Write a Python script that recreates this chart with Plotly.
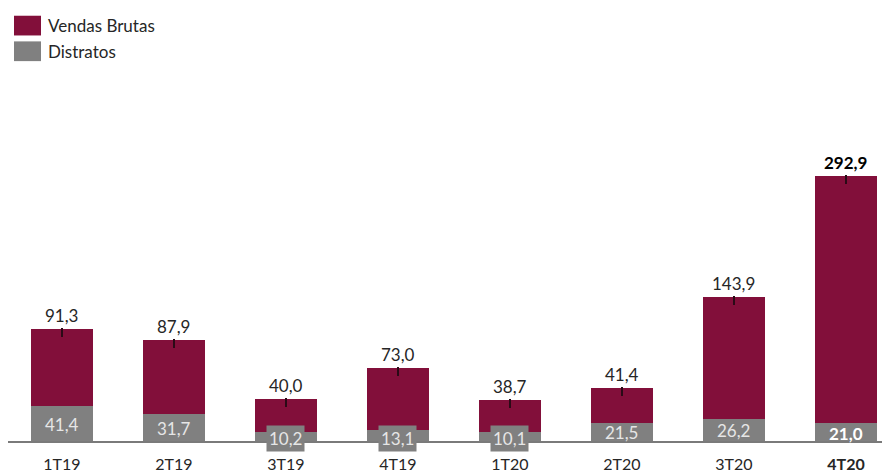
import plotly.graph_objects as go

categories = ["1T19", "2T19", "3T19", "4T19", "1T20", "2T20", "3T20", "4T20"]
vendas_brutas = [91.3, 87.9, 40.0, 73.0, 38.7, 41.4, 143.9, 292.9]
distratos = [41.4, 31.7, 10.2, 13.1, 10.1, 21.5, 26.2, 21.0]

MAROON = "#820F3A"
GRAY = "#808080"
FONT = "Lato"

# page has an 8px body margin, so the figure is drawn 8px smaller
OFF = 8
W, H = 890 - OFF, 473 - OFF
ML, MR, MT, MB = 0, 0, 62, 27
PW, PH = W - ML - MR, H - MT - MB


def px(x):
    return (x - OFF - ML) / PW


def py(y):
    return (H - MB - (y - OFF)) / PH


def fmt(v):
    return f"{v:.1f}".replace(".", ",")


last = len(categories) - 1

fig = go.Figure()
fig.add_trace(go.Bar(
    x=categories, y=distratos, name="Distratos",
    marker=dict(color=GRAY, line=dict(width=0)), width=0.545,
    showlegend=False, hoverinfo="skip",
))
fig.add_trace(go.Bar(
    x=categories, y=vendas_brutas, name="Vendas Brutas",
    marker=dict(color=MAROON, line=dict(width=0)), width=0.545,
    showlegend=False, hoverinfo="skip",
    error_y=dict(type="constant", value=1.2, valueminus=9.5, symmetric=False,
                 width=0, thickness=1.5, color="#2a0a16"),
))

annotations = []
for i, (c, v, d) in enumerate(zip(categories, vendas_brutas, distratos)):
    bold = i == last
    t = fmt(v)
    annotations.append(dict(
        x=c, y=v + d, xref="x", yref="y", yanchor="bottom", yshift=1,
        text=f"<b>{t}</b>" if bold else t, showarrow=False,
        font=dict(family=FONT, size=17, color="#000000" if bold else "#262626"),
    ))
    td = fmt(d)
    if d >= 18:
        annotations.append(dict(
            x=c, y=d / 2, xref="x", yref="y", yanchor="middle", yshift=-1,
            text=f"<b>{td}</b>" if bold else td, showarrow=False,
            font=dict(family=FONT, size=17, color="#ffffff" if bold else "#e6e6e6"),
        ))
    else:
        annotations.append(dict(
            x=c, y=0, xref="x", yref="y", yanchor="middle", yshift=3,
            text=td, showarrow=False, bgcolor=GRAY, borderpad=2,
            font=dict(family=FONT, size=17, color="#e6e6e6"),
        ))

# legend
shapes = []
legend_items = [("Vendas Brutas", MAROON, 15, 35), ("Distratos", GRAY, 41, 61)]
for name, col, y0, y1 in legend_items:
    shapes.append(dict(type="rect", xref="paper", yref="paper",
                       x0=px(14), x1=px(41), y0=py(y1), y1=py(y0),
                       fillcolor=col, line=dict(width=0)))
    annotations.append(dict(x=px(46), y=py((y0 + y1) / 2), xref="paper", yref="paper",
                            xanchor="left", yanchor="middle", text=name, showarrow=False,
                            font=dict(family=FONT, size=17, color="#262626")))

ticktext = [f"<b>{c}</b>" if i == last else c for i, c in enumerate(categories)]

fig.update_layout(
    width=W, height=H,
    margin=dict(l=ML, r=MR, t=MT, b=MB, pad=0),
    barmode="stack", bargap=0,
    plot_bgcolor="white", paper_bgcolor="white",
    font=dict(family=FONT, size=17, color="#262626"),
    annotations=annotations, shapes=shapes,
    xaxis=dict(
        range=[-0.482, 7.393], showgrid=False, zeroline=False,
        showline=True, linecolor="#7a7a7a", linewidth=1.5,
        tickmode="array", tickvals=categories, ticktext=ticktext,
        ticks="outside", ticklen=8, tickcolor="rgba(0,0,0,0)",
        tickfont=dict(family=FONT, size=16, color="#262626"),
        fixedrange=True,
    ),
    yaxis=dict(range=[0, 439], visible=False, showgrid=False, zeroline=False, fixedrange=True),
    showlegend=False,
)

fig.write_html("out.html")
